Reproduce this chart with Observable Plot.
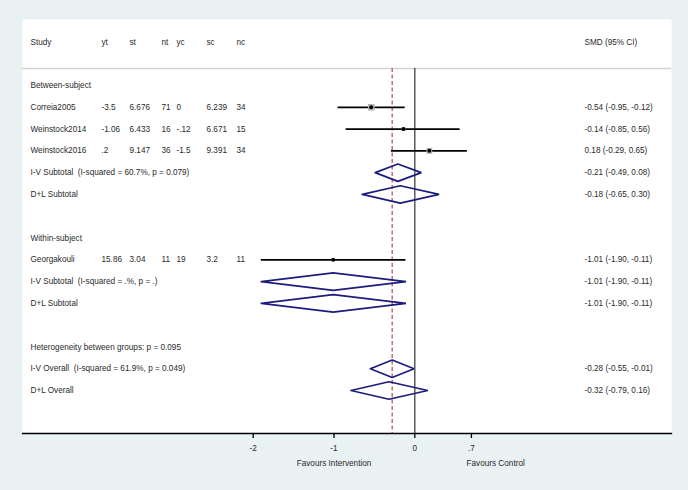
<!DOCTYPE html>
<html>
<head>
<meta charset="utf-8">
<script src="https://cdn.jsdelivr.net/npm/d3@7"></script>
<script src="https://cdn.jsdelivr.net/npm/@observablehq/plot@0.6"></script>
<style>
  html, body { margin: 0; padding: 0; background: #eaf1f3; }
  text { white-space: pre; }
</style>
</head>
<body>
<div id="chart"></div>
<script>
// ---- data ----
const columnHeaders = ["Study", "yt", "st", "nt", "yc", "sc", "nc"];
const effectHeader = "SMD (95% CI)";

const studies = ["Correia2005", "Weinstock2014", "Weinstock2016", "Georgakouli"];
const studyRow = [1, 2, 3, 8];
const yt = ["-3.5", "-1.06", ".2", "15.86"];
const st = ["6.676", "6.433", "9.147", "3.04"];
const nt = ["71", "16", "36", "11"];
const yc = ["0", "-.12", "-1.5", "19"];
const sc = ["6.239", "6.671", "9.391", "3.2"];
const nc = ["34", "15", "34", "11"];
const smd = [-0.54, -0.14, 0.18, -1.01];
const smdLo = [-0.95, -0.85, -0.29, -1.90];
const smdHi = [-0.12, 0.56, 0.65, -0.11];
const weight = [42.6, 14.8, 33.4, 9.2]; // estimated % weights (box sizes)

const pooledLabels = [
  "I-V Subtotal  (I-squared = 60.7%, p = 0.079)",
  "D+L Subtotal",
  "I-V Subtotal  (I-squared = .%, p = .)",
  "D+L Subtotal",
  "I-V Overall  (I-squared = 61.9%, p = 0.049)",
  "D+L Overall"
];
const pooledRow = [4, 5, 9, 10, 13, 14];
const pooledEst = [-0.21, -0.18, -1.01, -1.01, -0.28, -0.32];
const pooledLo = [-0.49, -0.65, -1.90, -1.90, -0.55, -0.79];
const pooledHi = [0.08, 0.30, -0.11, -0.11, -0.01, 0.16];

const groupLabels = ["Between-subject", "Within-subject", "Heterogeneity between groups: p = 0.095"];
const groupRow = [0, 7, 12];

const axisTicks = [-2, -1, 0, 0.7];
const axisTickLabels = ["-2", "-1", "0", ".7"];
const favourLabels = ["Favours Intervention", "Favours Control"];
const favourX = [-1, 1];

// ---- build tables ----
const fmt = v => v.toFixed(2);
const ci = (e, l, h) => `${fmt(e)} (${fmt(l)}, ${fmt(h)})`;
const studyData = studies.map((s, i) => ({
  name: s, row: studyRow[i], cols: [s, yt[i], st[i], nt[i], yc[i], sc[i], nc[i]],
  smd: smd[i], lo: smdLo[i], hi: smdHi[i], w: weight[i], ci: ci(smd[i], smdLo[i], smdHi[i])
}));
const pooledData = pooledLabels.map((l, i) => ({
  label: l.replace(/  /g, "\u00a0 "), row: pooledRow[i], est: pooledEst[i], lo: pooledLo[i], hi: pooledHi[i],
  ci: ci(pooledEst[i], pooledLo[i], pooledHi[i])
}));
const groupData = groupLabels.map((l, i) => ({label: l, row: groupRow[i]}));

const diamondPts = pooledData.flatMap((d, i) => [
  {id: i, x: d.lo, y: d.row},
  {id: i, x: d.est, y: d.row - 0.4},
  {id: i, x: d.hi, y: d.row},
  {id: i, x: d.est, y: d.row + 0.4},
  {id: i, x: d.lo, y: d.row}
]);

// ---- table layout ----
const colX = [30, 101, 129, 161, 176, 206, 236];
const rightX = 584;
const frameLeft = 22;
const headerRow = -2;
const cells = [];
columnHeaders.forEach((h, j) => cells.push({row: headerRow, text: h, col: j}));
studyData.forEach(d => d.cols.forEach((t, j) => cells.push({row: d.row, text: t, col: j})));
pooledData.forEach(d => cells.push({row: d.row, text: d.label, col: 0}));
groupData.forEach(d => cells.push({row: d.row, text: d.label, col: 0}));
const rightCells = [{row: headerRow, text: effectHeader}]
  .concat(studyData.map(d => ({row: d.row, text: d.ci})))
  .concat(pooledData.map(d => ({row: d.row, text: d.ci})));

const textColor = "#2a2a2a";
const fontSize = 8.2;

const columnMarks = colX.map((cx, j) =>
  Plot.text(cells.filter(c => c.col === j), {
    y: "row", text: "text", frameAnchor: "left", textAnchor: "start",
    dx: cx - frameLeft, fill: textColor
  })
);

const chart = Plot.plot({
  width: 688,
  height: 490,
  marginLeft: 22,
  marginRight: 17,
  marginTop: 19,
  marginBottom: 57,
  x: {domain: [-2, 0.7], range: [252.7, 470.9]},
  y: {domain: [0, 14], range: [85, 390], axis: null},
  r: {type: "sqrt", domain: [0, d3.max(weight)], range: [0, 3.7]},
  style: {fontFamily: "'Liberation Sans', Arial, Helvetica, sans-serif", fontSize: fontSize + "px", background: "#eaf1f3", color: textColor, overflow: "visible"},
  marks: [
    Plot.frame({fill: "white", stroke: null}),
    Plot.ruleY([-0.78], {stroke: "#d4d4d4", strokeWidth: 1.6}),
    Plot.ruleX([0], {insetTop: 49, stroke: "#333", strokeWidth: 1.2}),
    Plot.ruleX([pooledEst[4]], {insetTop: 49, stroke: "#bf6b78", strokeWidth: 1.5, strokeDasharray: "4,2.5"}),
    Plot.ruleY(studyData, {y: "row", x1: "lo", x2: "hi", stroke: "black", strokeWidth: 1.8}),
    Plot.dot(studyData, {x: "smd", y: "row", r: "w", symbol: "square", fill: "#b4b4b4", stroke: null}),
    Plot.dot(studyData, {x: "smd", y: "row", r: 2, fill: "black", stroke: null}),
    Plot.line(diamondPts, {x: "x", y: "y", z: "id", stroke: "#1c1c7c", strokeWidth: 1.7, strokeLinejoin: "miter"}),
    ...columnMarks,
    Plot.text(rightCells, {y: "row", text: "text", frameAnchor: "left", textAnchor: "start", dx: rightX - frameLeft, fill: textColor}),
    Plot.frame({anchor: "bottom", stroke: "black", strokeWidth: 1.3}),
    Plot.axisX({ticks: axisTicks, tickFormat: d => axisTickLabels[axisTicks.indexOf(d)], tickSize: 5, tickPadding: 7, stroke: "black", strokeWidth: 1.3, fill: textColor, label: null}),
    Plot.text(favourLabels.map((t, i) => ({t, x: favourX[i]})), {x: "x", text: "t", frameAnchor: "bottom", dy: 30, textAnchor: "middle", lineAnchor: "middle", fill: textColor})
  ]
});
document.getElementById("chart").appendChild(chart);
</script>
</body>
</html>
